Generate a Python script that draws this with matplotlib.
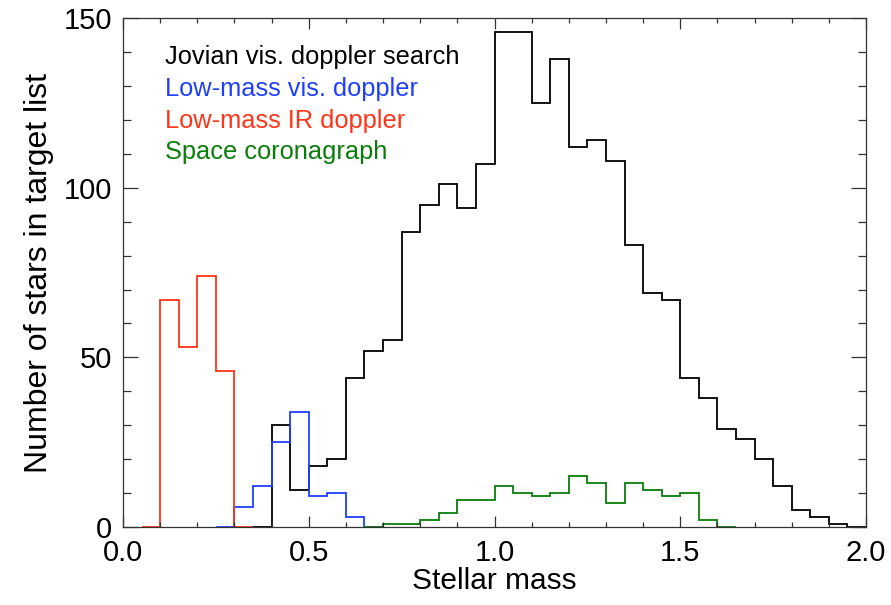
import numpy as np
import matplotlib
matplotlib.use('Agg')
import matplotlib.pyplot as plt
import matplotlib.ticker as mticker

# bin width of the mass histograms
BIN = 0.05

# counts per bin, each series starts at its own left edge
jovian_start = 0.35
jovian_counts = [0, 30, 11, 18, 20, 44, 52, 55, 87, 95, 101, 94, 107, 146, 146,
                 125, 138, 112, 114, 108, 83, 69, 67, 44, 38, 29, 26, 20, 12,
                 5, 3, 1, 0]

lowvis_start = 0.25
lowvis_counts = [0, 6, 12, 25, 34, 9, 10, 3, 0]

lowir_start = 0.05
lowir_counts = [0, 67, 53, 74, 46, 0]

corona_start = 0.65
corona_counts = [0, 1, 1, 2, 4, 8, 8, 12, 10, 9, 10, 15, 13, 7, 13, 11, 9, 10,
                 2, 0]

labels = ['Jovian vis. doppler search', 'Low-mass vis. doppler',
          'Low-mass IR doppler', 'Space coronagraph']
colors = ['black', '#1f3fff', '#ff3419', '#0a7d0a']


def edges_for(start, counts):
    return start + BIN * np.arange(len(counts) + 1)


plt.rcParams['font.family'] = ['Liberation Sans', 'DejaVu Sans']

fig = plt.figure(figsize=(8.91, 6.05), dpi=100)
ax = fig.add_axes([0.138, 0.129, 0.834, 0.841])

series = [(jovian_start, jovian_counts), (lowvis_start, lowvis_counts),
          (lowir_start, lowir_counts), (corona_start, corona_counts)]
for (start, counts), c in zip(series, colors):
    ax.stairs(counts, edges_for(start, counts), color=c, linewidth=1.3,
              baseline=0)

ax.set_xlim(0, 2.0)
ax.set_ylim(0, 150)
ax.xaxis.set_major_locator(mticker.MultipleLocator(0.5))
ax.xaxis.set_minor_locator(mticker.MultipleLocator(0.1))
ax.yaxis.set_major_locator(mticker.MultipleLocator(50))
ax.yaxis.set_minor_locator(mticker.MultipleLocator(10))
ax.xaxis.set_major_formatter(mticker.FormatStrFormatter('%.1f'))

ax.tick_params(direction='in', which='both', bottom=True, top=True,
               left=True, right=True, labelsize=21, width=0.9, color='#333333')
ax.tick_params(axis='x', which='major', length=8, pad=9)
ax.tick_params(axis='x', which='minor', length=3.6)
ax.tick_params(axis='y', which='major', length=10.8, pad=8)
ax.tick_params(axis='y', which='minor', length=5.8)
for sp in ax.spines.values():
    sp.set_linewidth(0.9)
    sp.set_color('#333333')

ax.set_xlabel('Stellar mass', fontsize=21.5, labelpad=0)
ax.set_ylabel('Number of stars in target list', fontsize=23, labelpad=7)

for i, (lab, c) in enumerate(zip(labels, colors)):
    ax.text(0.056, 0.9096 - i * 0.0623, lab, color=c, fontsize=18.3,
            transform=ax.transAxes, va='baseline', ha='left')

fig.savefig('out.png', dpi=100)
